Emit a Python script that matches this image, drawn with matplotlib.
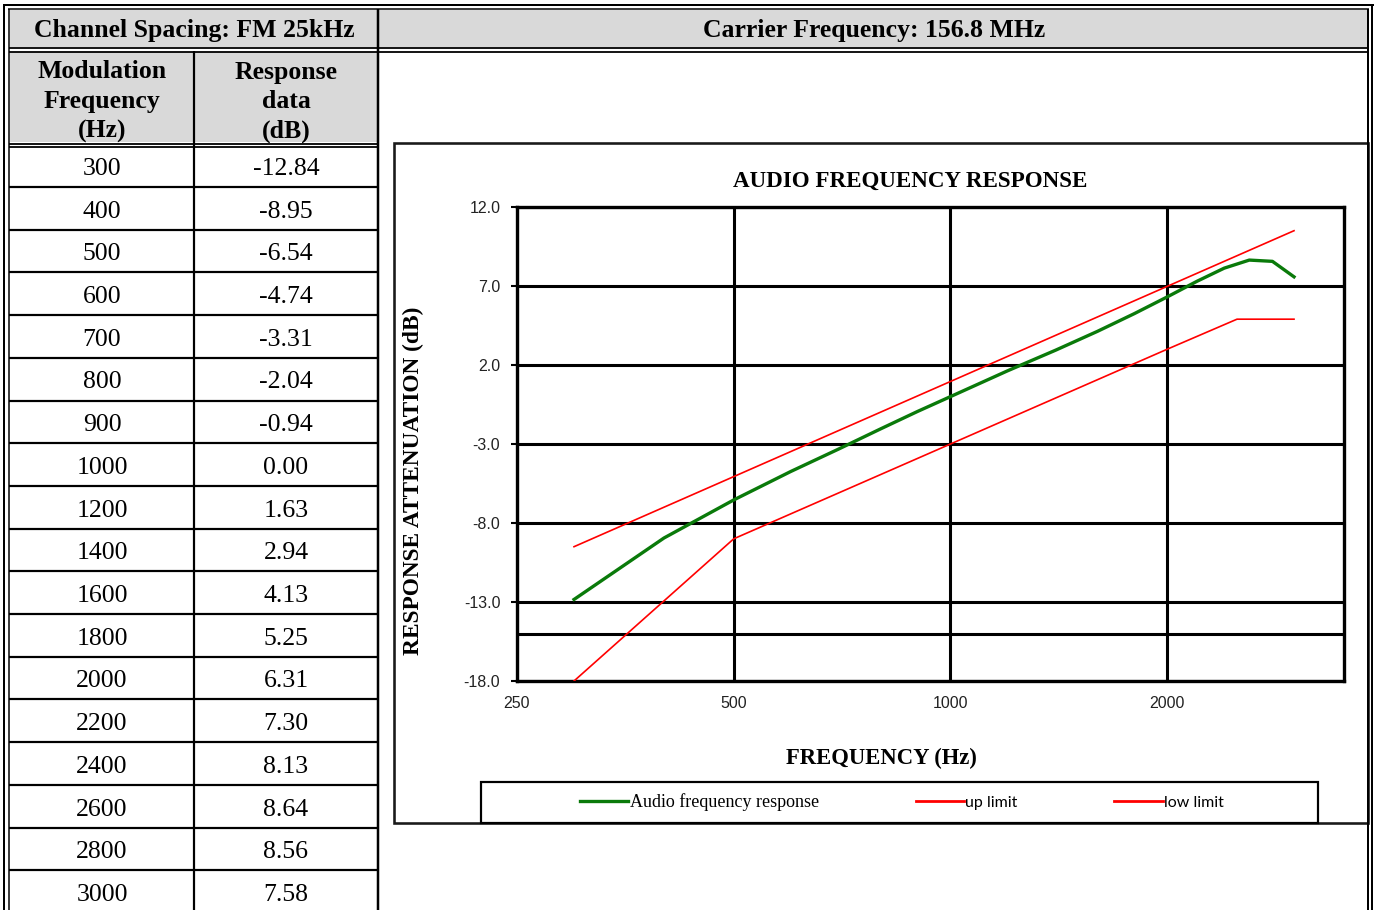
import matplotlib
matplotlib.use("Agg")
import matplotlib.pyplot as plt
from matplotlib.patches import Rectangle
from matplotlib.lines import Line2D
from matplotlib.ticker import FixedLocator, FixedFormatter, NullLocator

# ---------------- data ----------------
mod_freq = [300, 400, 500, 600, 700, 800, 900, 1000, 1200, 1400, 1600, 1800,
            2000, 2200, 2400, 2600, 2800, 3000]
response_db = [-12.84, -8.95, -6.54, -4.74, -3.31, -2.04, -0.94, 0.00, 1.63, 2.94,
               4.13, 5.25, 6.31, 7.30, 8.13, 8.64, 8.56, 7.58]
up_freq = [300, 3000]
up_limit = [-9.5, 10.5]
low_freq = [300, 500, 1000, 2000, 2500, 3000]
low_limit = [-18.0, -9.0, -3.0, 3.0, 4.9, 4.9]
ref_level = -15.0
x_ticks = [250, 500, 1000, 2000]
y_ticks = [12.0, 7.0, 2.0, -3.0, -8.0, -13.0, -18.0]

channel_spacing_text = "Channel Spacing: FM 25kHz"
carrier_text = "Carrier Frequency: 156.8 MHz"
col_headers = [["Modulation", "Frequency", "(Hz)"], ["Response", "data", "(dB)"]]
chart_title = "AUDIO FREQUENCY RESPONSE"
x_label = "FREQUENCY (Hz)"
y_label = "RESPONSE ATTENUATION (dB)"
legend_labels = ["Audio frequency response", "up limit", "low limit"]

# ---------------- figure ----------------
W, H = 1378, 910
fig = plt.figure(figsize=(W / 100, H / 100), dpi=100)
fig.patch.set_facecolor("white")

bg = fig.add_axes([0, 0, 1, 1])
bg.set_xlim(0, W)
bg.set_ylim(H, 0)
bg.axis("off")

PX = 0.72  # points per pixel
SERIF = ["Liberation Serif", "DejaVu Serif"]
GRAY = "#d9d9d9"


def hl(y, x0, x1, px=2.0, color="black"):
    bg.plot([x0, x1], [y, y], color=color, lw=px * PX, solid_capstyle="butt")


def vl(x, y0, y1, px=2.0, color="black"):
    bg.plot([x, x], [y0, y1], color=color, lw=px * PX, solid_capstyle="butt")


# gray cells
bg.add_patch(Rectangle((10, 10), 1358, 37, fc=GRAY, ec="none"))
bg.add_patch(Rectangle((10, 52), 367, 90, fc=GRAY, ec="none"))

# outer double border
hl(4.5, 3, 1374, 2.0)
hl(9, 8, 1369, 1.5)
vl(3.5, 4, H, 2.0)
vl(8.8, 9, H, 1.5)
vl(1368, 9, H, 2.0)
vl(1372, 4, H, 2.0)

# header bottom double line
hl(48, 9, 1368, 1.8)
hl(51.5, 9, 1368, 1.8)
# sub-header bottom double line (left part only)
hl(143.5, 9, 378, 1.8)
hl(147, 9, 378, 1.8)
# column separators
vl(378, 9, H, 2.5)
vl(194, 51, H, 2.2)

# data rows
row_h = 42.7
for i in range(len(mod_freq) - 1):
    hl(187 + row_h * i, 9, 378, 2.2)

# table text
bg.text(194, 31, channel_spacing_text, ha="center", va="center",
        fontsize=18.5, fontweight="bold", family=SERIF)
bg.text(874, 31, carrier_text, ha="center", va="center",
        fontsize=18.5, fontweight="bold", family=SERIF)
for cx, lines in zip([102, 286], col_headers):
    for j, s in enumerate(lines):
        bg.text(cx, 72 + 29.5 * j, s, ha="center", va="center",
                fontsize=18.5, fontweight="bold", family=SERIF)
for i, (f, v) in enumerate(zip(mod_freq, response_db)):
    y = 169 + row_h * i
    bg.text(102, y, f"{f}", ha="center", va="center", fontsize=18.5, family=SERIF)
    bg.text(286, y, f"{v:.2f}", ha="center", va="center", fontsize=18.5, family=SERIF)

# chart outer box and legend box
bg.add_patch(Rectangle((394, 142.5), 974, 680.5, fc="none", ec="#1a1a1a", lw=2.6 * PX))
bg.add_patch(Rectangle((480.5, 781.5), 837.5, 41.5, fc="none", ec="black", lw=2.2 * PX))

# ---------------- chart ----------------
L, R, T, B = 517, 1344, 207, 681
ax = fig.add_axes([L / W, (H - B) / H, (R - L) / W, (B - T) / H])
ax.set_xscale("log", base=2)
ax.set_xlim(250, 3520)
ax.set_ylim(-18, 12)
ax.xaxis.set_major_locator(FixedLocator(x_ticks))
ax.xaxis.set_major_formatter(FixedFormatter([str(t) for t in x_ticks]))
ax.xaxis.set_minor_locator(NullLocator())
ax.yaxis.set_major_locator(FixedLocator(y_ticks))
ax.yaxis.set_major_formatter(FixedFormatter([f"{v:.1f}" for v in y_ticks]))
ax.yaxis.set_minor_locator(NullLocator())

ax.grid(True, which="major", color="black", lw=2.2)
ax.axhline(ref_level, color="black", lw=2.2, zorder=1)
for sp in ax.spines.values():
    sp.set_linewidth(2.4)
    sp.set_color("black")

TICKFONT = ["Liberation Sans Narrow", "Liberation Sans"]
ax.tick_params(axis="y", direction="out", length=4, width=1.5, pad=8, labelsize=11.5)
ax.tick_params(axis="x", length=0, pad=11, labelsize=11.5)
for lab in ax.get_xticklabels() + ax.get_yticklabels():
    lab.set_family(TICKFONT)
    lab.set_color("#222222")

h_green, = ax.plot(mod_freq, response_db, color="#0a7a0a", lw=2.4, zorder=4)
h_up, = ax.plot(up_freq, up_limit, color="#ff0000", lw=1.2, zorder=3)
h_low, = ax.plot(low_freq, low_limit, color="#ff0000", lw=1.2, zorder=3)

ax.text((910 - L) / (R - L), (B - 181) / (B - T), chart_title, transform=ax.transAxes,
        ha="center", va="center", fontsize=16.6, fontweight="bold", family=SERIF)
ax.set_xlabel(x_label, fontsize=16.3, fontweight="bold", family=SERIF)
ax.xaxis.set_label_coords((881 - L) / (R - L), (B - 758) / (B - T))
ax.xaxis.label.set_va("center")
ax.set_ylabel(y_label, fontsize=16.8, fontweight="bold", family=SERIF)
ax.yaxis.set_label_coords((413 - L) / (R - L), (B - 481) / (B - T))
ax.yaxis.label.set_va("center")

leg_handles = [Line2D([], [], color="#0a7a0a", lw=2.4),
               Line2D([], [], color="#ff0000", lw=2.0),
               Line2D([], [], color="#ff0000", lw=2.0)]
leg = fig.legend(leg_handles, legend_labels, loc="center",
                 bbox_to_anchor=(902 / W, 1 - 802 / H), ncol=3, frameon=False,
                 fontsize=12, handlelength=2.9, handletextpad=0.08,
                 columnspacing=5.8, borderpad=0)
txts = leg.get_texts()
txts[0].set_family(SERIF)
txts[0].set_fontsize(13)
for t in txts[1:]:
    t.set_family(["Lato", "DejaVu Sans"])
    t.set_fontsize(11.5)

fig.savefig("out.png", dpi=100)
